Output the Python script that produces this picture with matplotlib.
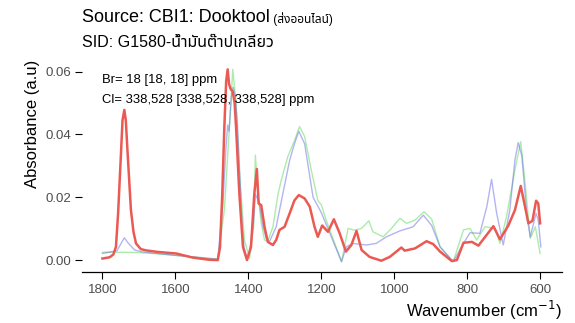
import matplotlib
matplotlib.use('Agg')
import matplotlib.pyplot as plt

# spectra (wavenumber cm-1, absorbance)
wn_red = [1800, 1780, 1770, 1763, 1757, 1750, 1745, 1740, 1736, 1731, 1726, 1722,
          1715, 1708, 1695, 1681, 1649, 1598, 1553, 1507, 1484, 1478, 1472, 1466,
          1461, 1457, 1453, 1449, 1443, 1438, 1434, 1425, 1415, 1404, 1393, 1384,
          1377, 1372, 1365, 1356, 1347, 1333, 1324, 1315, 1301, 1287, 1274, 1262,
          1246, 1232, 1219, 1210, 1198, 1187, 1182, 1166, 1150, 1133, 1118, 1104,
          1090, 1068, 1036, 1013, 981, 972, 944, 912, 894, 875, 843, 829, 811, 788,
          770, 729, 711, 688, 670, 654, 633, 622, 612, 606, 601]
abs_red = [0.0005, 0.0009, 0.0018, 0.0042, 0.015, 0.032, 0.0445, 0.0478, 0.0445,
           0.034, 0.024, 0.016, 0.009, 0.0053, 0.0035, 0.0031, 0.0026, 0.0021, 0.0008,
           0.0001, 0.0, 0.004, 0.02, 0.0425, 0.057, 0.0607, 0.056, 0.0545, 0.0536,
           0.05, 0.0425, 0.0213, 0.0042, 0.0, 0.0042, 0.021, 0.029, 0.018, 0.0175,
           0.0106, 0.0058, 0.0048, 0.0064, 0.0096, 0.0106, 0.0149, 0.019, 0.0207,
           0.0196, 0.017, 0.0106, 0.0074, 0.011, 0.0096, 0.009, 0.013, 0.0085, 0.0027,
           0.0048, 0.0093, 0.0032, 0.001, -0.0002, 0.001, 0.004, 0.003, 0.0037, 0.006,
           0.0051, 0.0027, -0.0003, 0.0, 0.0055, 0.0058, 0.0046, 0.0108, 0.0066, 0.011,
           0.0159, 0.0236, 0.0117, 0.0125, 0.0189, 0.018, 0.0117]

wn_blue = [1800, 1760, 1748, 1740, 1730, 1712, 1690, 1650, 1600, 1550, 1500, 1484,
           1470, 1462, 1457, 1453, 1447, 1442, 1436, 1430, 1424, 1418, 1412, 1405,
           1398, 1386, 1381, 1370, 1360, 1351, 1342, 1324, 1306, 1287, 1274, 1262,
           1246, 1223, 1200, 1173, 1145, 1132, 1114, 1077, 1050, 1022, 985, 949, 921,
           898, 875, 839, 811, 793, 766, 747, 734, 720, 702, 684, 670, 661, 651, 637,
           628, 612, 606, 599]
abs_blue = [0.0021, 0.003, 0.0055, 0.0071, 0.0055, 0.0032, 0.0026, 0.0021, 0.0015,
            0.001, 0.0004, 0.0003, 0.018, 0.035, 0.043, 0.041, 0.052, 0.055, 0.052,
            0.043, 0.028, 0.012, 0.004, 0.001, 0.002, 0.012, 0.021, 0.018, 0.0106,
            0.0069, 0.006, 0.0106, 0.021, 0.0318, 0.037, 0.041, 0.037, 0.02, 0.015,
            0.0074, -0.0005, 0.0042, 0.0053, 0.0048, 0.0053, 0.0074, 0.0093, 0.0106,
            0.0143, 0.011, 0.0042, -0.0005, 0.0053, 0.0087, 0.0085, 0.017, 0.0257,
            0.0149, 0.0048, 0.0159, 0.0318, 0.0374, 0.0332, 0.0138, 0.0074, 0.0149,
            0.0127, 0.0042]

wn_green = [1800, 1750, 1700, 1650, 1600, 1550, 1500, 1484, 1466, 1452, 1443, 1434,
            1425, 1411, 1397, 1386, 1381, 1374, 1365, 1356, 1347, 1333, 1319, 1310,
            1292, 1274, 1260, 1246, 1228, 1210, 1200, 1187, 1145, 1127, 1110, 1090,
            1070, 1059, 1031, 1008, 985, 967, 944, 919, 898, 875, 839, 811, 793, 775,
            752, 724, 711, 693, 670, 654, 642, 628, 614, 601]
abs_green = [0.0025, 0.0025, 0.0024, 0.002, 0.0015, 0.001, 0.0005, 0.0003, 0.0159,
             0.0425, 0.0607, 0.05, 0.0287, 0.0064, 0.0005, 0.0106, 0.0334, 0.021,
             0.0117, 0.0064, 0.006, 0.0106, 0.021, 0.0255, 0.033, 0.038, 0.0425,
             0.0393, 0.0287, 0.019, 0.0175, 0.0127, -0.0005, 0.0101, 0.0095, 0.0101,
             0.0125, 0.009, 0.0074, 0.0101, 0.0133, 0.0117, 0.0127, 0.0154, 0.013,
             0.0042, -0.0005, 0.0096, 0.0101, 0.0064, 0.0106, 0.0101, 0.0053, 0.0138,
             0.0287, 0.0377, 0.0244, 0.0069, 0.0106, 0.0021]

x_ticks = [1800, 1600, 1400, 1200, 1000, 800, 600]
y_ticks = [0.00, 0.02, 0.04, 0.06]

thai = ['Liberation Sans', 'Noto Sans Thai', 'Noto Sans Thai Looped', 'Sarabun', 'DejaVu Sans']
plt.rcParams['font.family'] = thai

fig = plt.figure(figsize=(5.75, 3.23), dpi=100)
ax = fig.add_axes([0.1426, 0.1588, 0.8348, 0.64])

ax.plot(wn_green, abs_green, color='#66dd66', alpha=0.55, lw=1.0)
ax.plot(wn_blue, abs_blue, color='#6a6ae8', alpha=0.5, lw=1.0)
ax.plot(wn_red, abs_red, color='#eb5a52', lw=1.8)

ax.set_xlim(1856, 541)
ax.set_ylim(-0.0037, 0.0621)
ax.set_xticks(x_ticks)
ax.set_xticklabels([str(t) for t in x_ticks])
ax.set_yticks(y_ticks)
ax.set_yticklabels(['%.2f' % t for t in y_ticks])

for s in ['top', 'right', 'left']:
    ax.spines[s].set_visible(False)
ax.spines['bottom'].set_linewidth(0.9)
ax.tick_params(axis='x', length=5, width=0.8, labelsize=9.5, labelcolor='#4d4d4d', pad=4)
ax.tick_params(axis='y', length=5, width=0.8, labelsize=9.5, labelcolor='#4d4d4d', pad=3)

ax.set_ylabel('Absorbance (a.u)', fontsize=12)
ax.yaxis.set_label_coords(-0.088, 0.714)
ax.set_xlabel('Wavenumber (cm$^{-1}$)', fontsize=12, loc='right', labelpad=2)

ax.text(1800, 0.0573, 'Br= 18 [18, 18] ppm', fontsize=9.4, va='center')
ax.text(1800, 0.0510, 'Cl= 338,528 [338,528, 338,528] ppm', fontsize=9.4, va='center')

t1 = fig.text(0.1426, 1 - 22 / 323, 'Source: CBI1: Dooktool', fontsize=13, va='baseline')
ax.annotate(' (ส่งออนไลน์)', xy=(1, 0), xycoords=t1, fontsize=8.5, va='bottom')
fig.text(0.1426, 1 - 47 / 323, 'SID: G1580-น้ำมันต๊าปเกลียว', fontsize=11.5, va='baseline')

fig.savefig('out.png')
